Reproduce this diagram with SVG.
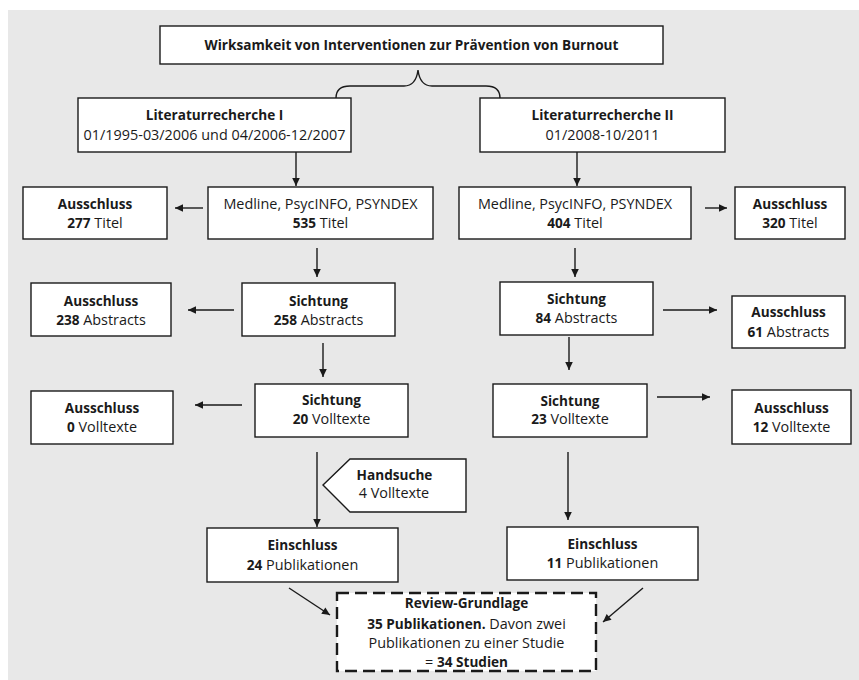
<svg xmlns="http://www.w3.org/2000/svg" width="859" height="680" viewBox="0 0 859 680">
<defs>
<style>
.box{fill:#fff;stroke:#1a1a1a;stroke-width:1.4}
.dash{fill:#fff;stroke:#1a1a1a;stroke-width:2.4;stroke-dasharray:12 6}
text{font-family:"Open Sans","Noto Sans",sans-serif;font-size:14.4px;fill:#1a1a1a;text-anchor:middle}
.b{font-weight:bold;font-size:13.6px}
.c{stroke:#1a1a1a;stroke-width:1.4;fill:none}
</style>
<marker id="ah" markerUnits="userSpaceOnUse" markerWidth="10" markerHeight="10" viewBox="0 0 10 10" refX="9" refY="5" orient="auto">
<path d="M1,1.2 L9,5 L1,8.8 Z" fill="#1a1a1a"/>
</marker>
</defs>
<rect x="0" y="0" width="859" height="680" fill="#fff"/>
<rect x="8" y="10" width="851" height="670" fill="#e8e8e8"/>

<g id="connectors">
<path class="c" d="M336,98 Q336,86 350,86 L404,86 Q416,86 418,70 Q420,86 432,86 L486,86 Q500,86 500,98"/>
<line class="c" x1="296" y1="152" x2="296" y2="186" marker-end="url(#ah)"/>
<line class="c" x1="577" y1="152" x2="577" y2="186" marker-end="url(#ah)"/>
<line class="c" x1="203" y1="208" x2="175" y2="208" marker-end="url(#ah)"/>
<line class="c" x1="705" y1="208" x2="727" y2="208" marker-end="url(#ah)"/>
<line class="c" x1="317" y1="248" x2="317" y2="277" marker-end="url(#ah)"/>
<line class="c" x1="575" y1="248" x2="575" y2="277" marker-end="url(#ah)"/>
<line class="c" x1="234" y1="310" x2="188" y2="310" marker-end="url(#ah)"/>
<line class="c" x1="663" y1="310" x2="717" y2="310" marker-end="url(#ah)"/>
<line class="c" x1="323" y1="343" x2="323" y2="377" marker-end="url(#ah)"/>
<line class="c" x1="569" y1="337" x2="569" y2="370" marker-end="url(#ah)"/>
<line class="c" x1="242" y1="405" x2="195" y2="405" marker-end="url(#ah)"/>
<line class="c" x1="657" y1="397" x2="710" y2="397" marker-end="url(#ah)"/>
<line class="c" x1="317" y1="452" x2="317" y2="527" marker-end="url(#ah)"/>
<line class="c" x1="568" y1="452" x2="568" y2="520" marker-end="url(#ah)"/>
<line class="c" x1="289" y1="588" x2="330" y2="615" marker-end="url(#ah)"/>
<line class="c" x1="643" y1="588" x2="603" y2="622" marker-end="url(#ah)"/>
</g>

<g id="title">
<rect class="box" x="160" y="26" width="503" height="38"/>
<text class="b" x="411.5" y="50">Wirksamkeit von Interventionen zur Prävention von Burnout</text>
</g>

<g id="lit1">
<rect class="box" x="78" y="98" width="273" height="54"/>
<text class="b" x="214.5" y="120">Literaturrecherche I</text>
<text x="214.5" y="140">01/1995-03/2006 und 04/2006-12/2007</text>
</g>

<g id="lit2">
<rect class="box" x="480" y="98" width="245" height="54"/>
<text class="b" x="602.5" y="120">Literaturrecherche II</text>
<text x="602.5" y="140">01/2008-10/2011</text>
</g>

<g id="aus277">
<rect class="box" x="23" y="187" width="144" height="52"/>
<text class="b" x="95" y="209">Ausschluss</text>
<text x="95" y="228"><tspan class="b">277</tspan> Titel</text>
</g>

<g id="med1">
<rect class="box" x="208" y="187" width="225" height="52"/>
<text x="320.5" y="209">Medline, PsycINFO, PSYNDEX</text>
<text x="320.5" y="228"><tspan class="b">535</tspan> Titel</text>
</g>

<g id="med2">
<rect class="box" x="459" y="187" width="232" height="52"/>
<text x="575" y="209">Medline, PsycINFO, PSYNDEX</text>
<text x="575" y="228"><tspan class="b">404</tspan> Titel</text>
</g>

<g id="aus320">
<rect class="box" x="735" y="187" width="110" height="52"/>
<text class="b" x="790" y="209">Ausschluss</text>
<text x="790" y="228"><tspan class="b">320</tspan> Titel</text>
</g>

<g id="aus238">
<rect class="box" x="31" y="283" width="140" height="53"/>
<text class="b" x="101" y="306">Ausschluss</text>
<text x="101" y="325"><tspan class="b">238</tspan> Abstracts</text>
</g>

<g id="sich258">
<rect class="box" x="242" y="283" width="153" height="53"/>
<text class="b" x="318.5" y="306">Sichtung</text>
<text x="318.5" y="325"><tspan class="b">258</tspan> Abstracts</text>
</g>

<g id="sich84">
<rect class="box" x="500" y="282" width="153" height="53"/>
<text class="b" x="576.5" y="304">Sichtung</text>
<text x="576.5" y="323"><tspan class="b">84</tspan> Abstracts</text>
</g>

<g id="aus61">
<rect class="box" x="732" y="296" width="113" height="52"/>
<text class="b" x="788.5" y="317">Ausschluss</text>
<text x="788.5" y="337"><tspan class="b">61</tspan> Abstracts</text>
</g>

<g id="aus0">
<rect class="box" x="31" y="391" width="142" height="53"/>
<text class="b" x="102" y="413">Ausschluss</text>
<text x="102" y="432"><tspan class="b">0</tspan> Volltexte</text>
</g>

<g id="sich20">
<rect class="box" x="255" y="384" width="153" height="53"/>
<text class="b" x="331.5" y="405">Sichtung</text>
<text x="331.5" y="424"><tspan class="b">20</tspan> Volltexte</text>
</g>

<g id="sich23">
<rect class="box" x="493" y="384" width="154" height="53"/>
<text class="b" x="570" y="406">Sichtung</text>
<text x="570" y="424"><tspan class="b">23</tspan> Volltexte</text>
</g>

<g id="aus12">
<rect class="box" x="732" y="390" width="119" height="54"/>
<text class="b" x="791.5" y="413">Ausschluss</text>
<text x="791.5" y="432"><tspan class="b">12</tspan> Volltexte</text>
</g>

<g id="handsuche">
<polygon class="box" points="323,485 350,459 466,459 466,512 350,512"/>
<text class="b" x="394.5" y="480">Handsuche</text>
<text x="394" y="498">4 Volltexte</text>
</g>

<g id="ein24">
<rect class="box" x="207" y="528" width="191" height="54"/>
<text class="b" x="302.5" y="550">Einschluss</text>
<text x="302.5" y="570"><tspan class="b">24</tspan> Publikationen</text>
</g>

<g id="ein11">
<rect class="box" x="507" y="527" width="191" height="53"/>
<text class="b" x="602.5" y="549">Einschluss</text>
<text x="602.5" y="568"><tspan class="b">11</tspan> Publikationen</text>
</g>

<g id="review">
<rect class="dash" x="337" y="593" width="259" height="78"/>
<text class="b" x="466.5" y="608">Review-Grundlage</text>
<text x="466.5" y="629"><tspan class="b">35 Publikationen.</tspan> Davon zwei</text>
<text x="466.5" y="648">Publikationen zu einer Studie</text>
<text x="466.5" y="667">= <tspan class="b">34 Studien</tspan></text>
</g>
</svg>
